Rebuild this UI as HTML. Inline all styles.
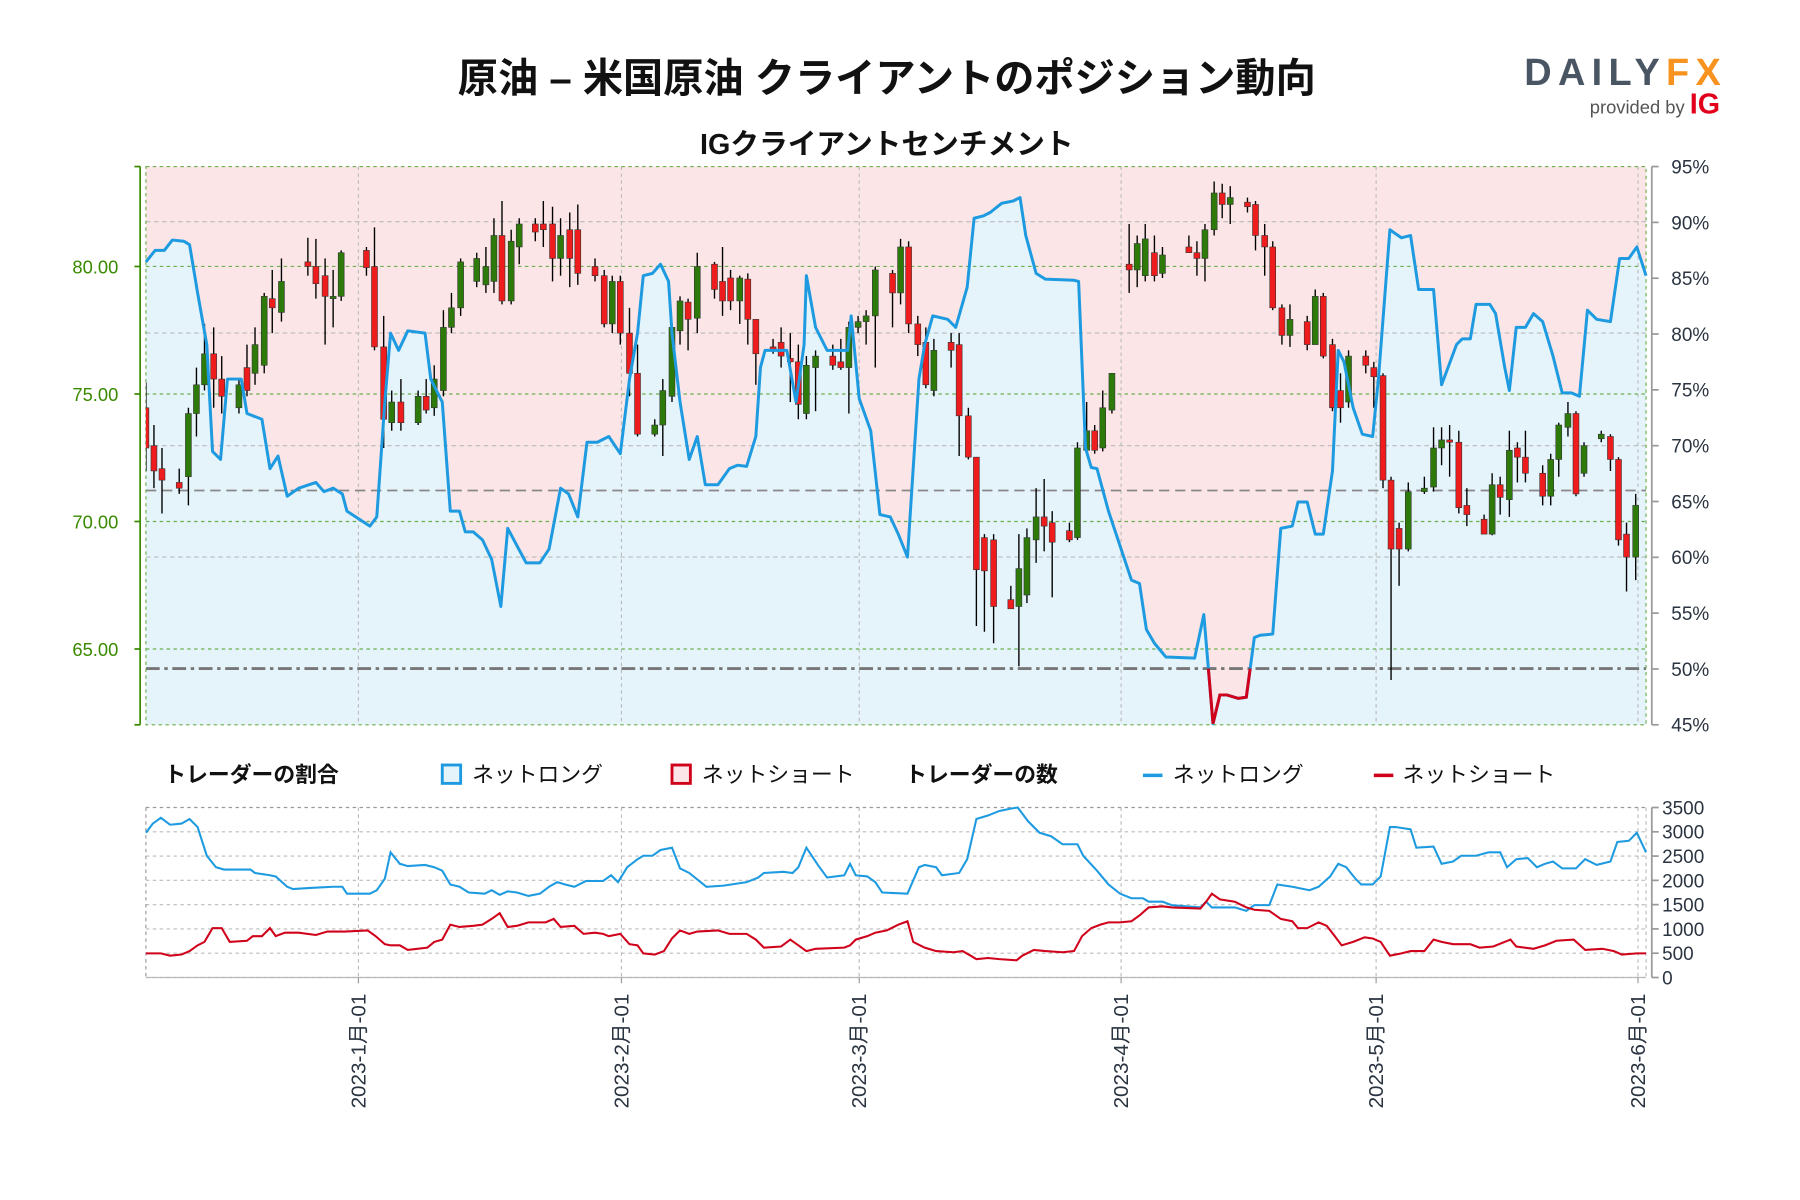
<!DOCTYPE html>
<html><head><meta charset="utf-8"><style>
html,body{margin:0;padding:0;background:#fff;}
svg{display:block;font-family:"Liberation Sans","Noto Sans CJK JP",sans-serif;}
</style></head><body>
<svg id="s" width="1800" height="1200" viewBox="0 0 1567 1044.7" xmlns="http://www.w3.org/2000/svg">
<defs>
<clipPath id="main"><rect x="127" y="145" width="1306" height="486"/></clipPath>
<clipPath id="below50"><rect x="127" y="582" width="1306" height="60"/></clipPath>
</defs>
<rect width="1567" height="1044.7" fill="#fff"/>
<text x="772" y="80" font-size="35" font-weight="bold" text-anchor="middle" fill="#111">原油 – 米国原油 クライアントのポジション動向</text>
<text x="772" y="134" font-size="25" font-weight="bold" text-anchor="middle" fill="#111">IGクライアントセンチメント</text>
<text x="1327" y="74" font-size="33" font-weight="bold" fill="#4a5563" letter-spacing="5.5">DAILY<tspan fill="#f7931e">FX</tspan></text>
<text x="1384" y="99" font-size="16" fill="#555">provided by <tspan fill="#e2001a" font-weight="bold" font-size="25">IG</tspan></text>
<g id="mainG"></g>
<g id="lowG"></g>
<g font-size="19" fill="#111">
<text x="143" y="681" font-weight="bold">トレーダーの割合</text>
<rect x="385" y="666" width="16" height="16" fill="#e5f3fb" stroke="#1e9be0" stroke-width="2.5"/>
<text x="411" y="681">ネットロング</text>
<rect x="585" y="666" width="16" height="16" fill="#fbe5e6" stroke="#d0021b" stroke-width="2.5"/>
<text x="611" y="681">ネットショート</text>
<text x="788" y="681" font-weight="bold">トレーダーの数</text>
<line x1="995" y1="675" x2="1012" y2="675" stroke="#1e9be0" stroke-width="3"/>
<text x="1021" y="681">ネットロング</text>
<line x1="1196" y1="675" x2="1213" y2="675" stroke="#d0021b" stroke-width="3"/>
<text x="1221" y="681">ネットショート</text>
</g>
</svg>
<script>
var NS="http://www.w3.org/2000/svg";
function el(p,t,a,txt){var e=document.createElementNS(NS,t);for(var k in a)e.setAttribute(k,a[k]);if(txt!==undefined)e.textContent=txt;p.appendChild(e);return e;}
var M=document.getElementById('mainG'),L=document.getElementById('lowG');
var L0=127,R0=1433,T=145,B=631;
el(M,'rect',{x:L0,y:T,width:R0-L0,height:B-T,fill:'#fbe5e6'});
var sent=[[127,228],[135,218],[143,218],[150,209],[160,210],[165,213],[172,255],[180,300],[185,393],[192,400],[198,330],[210,330],[215,360],[228,365],[235,408],[242,397],[250,432],[260,425],[275,420],[282,428],[290,425],[298,430],[302,445],[322,458],[328,450],[335,350],[340,290],[347,305],[355,288],[370,290],[375,330],[385,350],[392,445],[400,445],[405,463],[412,463],[420,470],[428,487],[436,528],[442,460],[450,475],[458,490],[470,490],[478,478],[488,425],[495,430],[503,450],[511,385],[520,385],[530,380],[540,395],[548,330],[555,290],[560,240],[568,238],[575,230],[582,245],[585,290],[592,350],[600,400],[607,380],[614,422],[625,422],[635,408],[642,405],[650,406],[658,380],[662,320],[666,305],[685,305],[693,350],[700,300],[702,240],[710,285],[720,305],[738,305],[741,275],[748,347],[758,375],[766,448],[775,450],[782,465],[790,485],[800,330],[805,300],[812,275],[825,278],[832,285],[842,250],[848,190],[856,188],[862,185],[872,177],[882,175],[888,172],[893,205],[902,238],[910,243],[935,244],[939,245],[945,390],[950,407],[955,408],[965,445],[975,475],[985,505],[992,508],[998,548],[1005,560],[1015,572],[1040,573],[1048,535],[1056,630],[1062,605],[1068,605],[1078,608],[1085,607],[1092,555],[1097,553],[1108,552],[1115,460],[1125,458],[1130,437],[1138,437],[1145,465],[1152,465],[1160,410],[1165,305],[1170,315],[1178,355],[1186,378],[1195,380],[1200,330],[1210,200],[1220,207],[1228,205],[1235,252],[1248,252],[1255,335],[1268,300],[1273,295],[1280,295],[1285,265],[1297,265],[1302,273],[1310,320],[1314,340],[1320,285],[1328,285],[1335,273],[1343,280],[1352,310],[1360,342],[1368,342],[1375,345],[1382,270],[1390,278],[1402,280],[1410,225],[1418,225],[1425,215],[1433,240]];
var pts=sent.map(function(p){return p[0]+','+p[1];}).join(' ');
el(M,'polygon',{points:L0+','+B+' '+pts+' '+R0+','+B,fill:'#e5f3fb'});
var dates=[312,541,748,976,1198,1426];
dates.forEach(function(x){el(M,'line',{x1:x,y1:T,x2:x,y2:B,stroke:'#bbb','stroke-dasharray':'3,3','stroke-width':1});});
[193,290,388,485].forEach(function(y){el(M,'line',{x1:L0,y1:y,x2:R0,y2:y,stroke:'#bbb','stroke-dasharray':'4,3','stroke-width':1});});
[232,343,454,565].forEach(function(y){el(M,'line',{x1:L0,y1:y,x2:R0,y2:y,stroke:'#6ab04c','stroke-dasharray':'3,3','stroke-width':1});});
el(M,'line',{x1:L0,y1:427,x2:R0,y2:427,stroke:'#888','stroke-dasharray':'9,5','stroke-width':1.5});
el(M,'line',{x1:L0,y1:582,x2:R0,y2:582,stroke:'#777','stroke-dasharray':'12,4,3,4','stroke-width':2.5});
el(M,'rect',{x:L0,y:T,width:R0-L0,height:B-T,fill:'none',stroke:'#6ab04c','stroke-dasharray':'3,3','stroke-width':1});
var C=[[127,355,390,333,410,'r'],[134,388,410,370,425,'r'],[141,408,418,390,447,'r'],[156,420,425,408,430,'r'],[164,360,415,355,440,'g'],[171,335,360,320,380,'g'],[178,308,335,282,340,'g'],[186,308,330,285,355,'r'],[193,330,345,310,360,'r'],[208,335,355,330,360,'g'],[215,320,340,300,345,'r'],[222,300,325,285,335,'g'],[230,258,318,255,325,'g'],[237,260,268,235,290,'r'],[245,245,272,225,280,'g'],[268,228,232,207,240,'r'],[275,232,247,208,260,'r'],[283,240,258,225,300,'r'],[290,258,260,235,285,'g'],[297,220,258,218,262,'g'],[319,218,233,215,240,'r'],[326,232,302,198,305,'r'],[334,302,365,275,390,'r'],[341,350,368,340,375,'g'],[349,350,368,330,375,'r'],[364,345,368,340,370,'g'],[371,345,357,330,360,'r'],[378,330,355,318,362,'g'],[386,285,340,270,345,'g'],[393,268,285,255,290,'g'],[401,228,268,225,275,'g'],[415,225,245,220,250,'g'],[423,232,248,215,255,'g'],[430,205,245,190,255,'g'],[437,205,262,175,265,'r'],[445,210,262,200,265,'g'],[452,195,215,190,230,'g'],[466,195,202,190,210,'r'],[473,195,200,175,215,'r'],[481,195,225,180,245,'r'],[488,205,225,190,240,'g'],[496,200,225,185,250,'r'],[503,200,238,178,248,'r'],[518,232,240,225,245,'r'],[526,240,282,235,285,'r'],[533,245,282,240,290,'g'],[540,245,290,240,300,'r'],[548,290,325,268,345,'r'],[555,325,378,300,380,'r'],[570,370,378,365,380,'g'],[577,340,370,330,397,'g'],[585,285,345,282,350,'g'],[592,262,288,258,300,'g'],[599,263,278,260,305,'r'],[607,232,277,220,290,'g'],[622,230,252,228,260,'r'],[629,245,262,215,275,'r'],[636,242,262,235,270,'r'],[644,242,262,240,282,'g'],[651,243,278,238,300,'r'],[658,278,308,278,335,'r'],[673,302,305,295,308,'r'],[680,298,310,285,320,'r'],[688,312,315,290,350,'r'],[695,315,352,300,365,'r'],[702,318,360,310,365,'g'],[710,310,320,305,358,'g'],[725,310,318,300,322,'r'],[732,315,320,295,322,'r'],[739,285,320,280,360,'g'],[747,280,285,275,290,'g'],[754,275,280,270,300,'g'],[762,235,275,232,320,'g'],[777,238,255,235,285,'r'],[784,215,255,208,265,'g'],[791,215,282,210,290,'r'],[799,282,300,275,310,'r'],[806,298,335,285,338,'r'],[813,305,340,295,345,'g'],[828,298,305,290,320,'r'],[835,300,362,290,397,'r'],[843,362,398,355,400,'r'],[850,398,496,398,545,'r'],[857,468,497,465,550,'r'],[865,470,528,465,560,'r'],[880,522,530,510,530,'r'],[887,495,528,465,580,'g'],[894,468,518,460,525,'g'],[902,450,470,425,490,'g'],[909,450,458,417,480,'r'],[916,455,472,445,520,'r'],[931,462,470,455,472,'r'],[938,390,468,385,470,'g'],[946,375,392,350,395,'g'],[953,375,392,370,395,'r'],[960,355,390,340,393,'g'],[968,325,357,325,360,'g'],[983,230,235,195,255,'r'],[990,212,235,205,250,'g'],[997,208,240,195,245,'g'],[1005,220,240,205,245,'r'],[1012,222,238,215,242,'g'],[1035,215,220,205,220,'r'],[1042,220,225,210,240,'r'],[1049,200,225,195,245,'g'],[1057,168,200,158,205,'g'],[1064,168,178,160,190,'r'],[1071,172,178,162,195,'g'],[1086,176,180,172,185,'r'],[1093,178,205,175,218,'r'],[1101,205,215,195,240,'r'],[1108,215,268,210,270,'r'],[1116,268,292,265,300,'r'],[1123,278,292,265,302,'g'],[1138,280,300,275,305,'r'],[1145,258,300,252,300,'g'],[1152,258,310,255,312,'r'],[1160,300,355,295,358,'r'],[1167,340,355,325,368,'r'],[1174,310,350,305,355,'g'],[1189,310,318,305,325,'r'],[1196,320,328,315,355,'r'],[1204,327,418,325,425,'r'],[1211,418,478,415,592,'r'],[1218,460,478,455,510,'r'],[1226,428,478,420,480,'g'],[1240,425,428,415,430,'g'],[1248,390,424,372,428,'g'],[1255,383,390,372,405,'g'],[1262,383,385,370,415,'r'],[1270,385,442,375,447,'r'],[1277,440,448,425,458,'r'],[1292,452,465,448,465,'r'],[1299,422,465,412,466,'g'],[1306,422,433,415,448,'r'],[1314,392,435,375,450,'g'],[1321,390,398,385,420,'r'],[1328,398,412,375,420,'r'],[1343,412,432,405,440,'r'],[1350,400,432,395,440,'g'],[1357,370,400,368,415,'g'],[1365,360,372,350,380,'g'],[1372,360,430,358,432,'r'],[1379,388,412,385,415,'g'],[1394,378,382,375,385,'g'],[1402,380,400,378,410,'r'],[1409,400,470,398,475,'r'],[1416,465,485,455,515,'r'],[1424,440,485,430,505,'g']];
var cg=el(M,'g',{'clip-path':'url(#main)'});
C.forEach(function(c){el(cg,'line',{x1:c[0],y1:c[3],x2:c[0],y2:c[4],stroke:'#000','stroke-width':1.2});
el(cg,'rect',{x:c[0]-2.6,y:c[1],width:5.2,height:Math.max(2,c[2]-c[1]),fill:c[5]=='g'?'#2d7a0b':'#ee1c1c',stroke:'#333','stroke-width':0.5});});
el(M,'polyline',{points:pts,fill:'none',stroke:'#1e9be0','stroke-width':2.6,'stroke-linejoin':'round'});
el(M,'polyline',{points:pts,fill:'none',stroke:'#d0021b','stroke-width':2.6,'clip-path':'url(#below50)'});
el(M,'line',{x1:122,y1:T,x2:122,y2:B,stroke:'#3a8a00','stroke-width':1.5});
el(M,'line',{x1:117,y1:T,x2:122,y2:T,stroke:'#3a8a00','stroke-width':1.5});
el(M,'line',{x1:117,y1:B,x2:122,y2:B,stroke:'#3a8a00','stroke-width':1.5});
[[232,'80.00'],[343,'75.00'],[454,'70.00'],[565,'65.00']].forEach(function(a){el(M,'line',{x1:117,y1:a[0],x2:122,y2:a[0],stroke:'#3a8a00','stroke-width':1.5});el(M,'text',{x:103,y:a[0]+6,'font-size':16,'text-anchor':'end',fill:'#3a8a00'},a[1]);});
el(M,'line',{x1:1438,y1:T,x2:1438,y2:B,stroke:'#999','stroke-width':1.5});
for(var i=0;i<=10;i++){var y=T+i*48.6;el(M,'line',{x1:1438,y1:y,x2:1444,y2:y,stroke:'#999','stroke-width':1.5});el(M,'text',{x:1455,y:y+6,'font-size':16.5,fill:'#2a3340'},(95-5*i)+'%');}
var LT=703,LB=851;
dates.forEach(function(x){el(L,'line',{x1:x,y1:LT,x2:x,y2:LB,stroke:'#bbb','stroke-dasharray':'3,3'});});
for(var v=0;v<=3500;v+=500){var y=LB-v/3500*(LB-LT);
el(L,'line',{x1:L0,y1:y,x2:R0,y2:y,stroke:v==3500?'#999':'#bbb','stroke-dasharray':'3,3'});
el(L,'line',{x1:1438,y1:y,x2:1444,y2:y,stroke:'#999','stroke-width':1.5});
el(L,'text',{x:1447,y:y+6,'font-size':16.5,fill:'#2a3340'},String(v));}
el(L,'line',{x1:1438,y1:LT,x2:1438,y2:LB,stroke:'#999','stroke-width':1.5});
el(L,'line',{x1:L0,y1:LT,x2:L0,y2:LB,stroke:'#999','stroke-dasharray':'3,3'});
el(L,'line',{x1:R0,y1:LT,x2:R0,y2:LB,stroke:'#bbb','stroke-dasharray':'3,3'});
el(L,'line',{x1:L0,y1:LB,x2:R0,y2:LB,stroke:'#bbb'});
var lg="127,725 133,717 140,712 148,718 158,717 165,713 172,720 180,745 188,755 195,757 210,757 218,757 222,760 235,762 240,763 250,772 255,774 270,773 290,772 298,772 302,778 322,778 328,775 335,765 340,742 348,752 355,754 370,753 378,755 385,758 392,770 400,772 408,777 422,778 428,775 435,779 442,776 450,777 460,780 470,778 478,772 485,768 492,770 500,772 510,767 525,767 532,762 538,768 546,755 555,748 560,745 568,745 575,740 585,738 592,756 600,760 615,772 630,771 650,768 660,764 665,760 682,759 690,760 695,755 702,738 712,753 720,764 735,762 740,752 745,762 755,763 762,768 768,777 790,778 800,755 805,753 815,755 820,762 835,760 842,748 850,713 860,710 870,706 880,704 886,703 895,715 905,725 915,728 925,735 938,735 943,745 955,758 965,770 975,778 985,782 995,782 1000,785 1012,785 1020,788 1045,790 1050,785 1055,790 1075,790 1085,793 1092,788 1105,788 1112,770 1125,772 1140,775 1148,772 1158,763 1165,752 1172,755 1180,765 1185,770 1195,770 1202,763 1210,720 1215,720 1228,722 1233,738 1248,737 1255,752 1265,750 1272,745 1285,745 1296,742 1306,742 1312,755 1320,748 1330,747 1338,755 1345,752 1352,750 1360,756 1372,756 1380,748 1390,753 1402,750 1408,733 1418,732 1425,725 1433,742";
var sh="127,830 140,830 148,832 158,831 165,828 172,823 178,820 185,808 193,808 200,820 215,819 220,815 228,815 235,808 240,815 248,812 260,812 275,814 285,811 300,811 320,810 327,815 335,822 340,823 348,823 355,827 372,825 378,820 385,818 392,805 400,807 412,806 420,805 428,800 435,795 442,807 450,806 460,803 475,803 482,800 488,807 500,806 508,813 518,812 525,813 530,815 540,813 548,822 555,823 560,830 570,831 578,828 585,817 592,810 600,813 607,811 625,810 635,813 650,813 658,818 665,825 680,824 688,818 695,823 702,828 710,826 735,825 740,823 745,818 755,815 762,812 772,810 782,805 790,802 795,820 805,825 815,828 830,829 838,828 845,832 850,835 860,834 870,835 885,836 890,832 900,827 910,828 925,829 935,828 942,815 950,808 958,805 965,803 975,803 985,802 992,797 1000,790 1012,789 1020,790 1045,791 1050,785 1055,778 1062,783 1075,785 1085,790 1092,792 1105,793 1115,800 1125,802 1130,808 1138,808 1148,803 1155,806 1162,815 1168,823 1178,820 1188,816 1195,817 1202,820 1210,832 1220,830 1228,828 1240,828 1248,818 1255,820 1265,822 1280,822 1288,825 1300,824 1315,818 1320,824 1335,826 1345,823 1355,819 1370,818 1380,827 1395,826 1405,828 1412,831 1425,830 1433,830";
el(L,'polyline',{points:lg,fill:'none',stroke:'#1e9be0','stroke-width':1.8});
el(L,'polyline',{points:sh,fill:'none',stroke:'#d0021b','stroke-width':1.8});
var lbl=['2023-1月-01','2023-2月-01','2023-3月-01','2023-4月-01','2023-5月-01','2023-6月-01'];
dates.forEach(function(x,i){el(L,'line',{x1:x,y1:LB,x2:x,y2:LB+5,stroke:'#999'});
el(L,'text',{x:0,y:0,'font-size':18,'text-anchor':'end',fill:'#2a3340',transform:'translate('+(x+6)+','+(LB+14)+') rotate(-90)'},lbl[i]);});
</script>
</body></html>
